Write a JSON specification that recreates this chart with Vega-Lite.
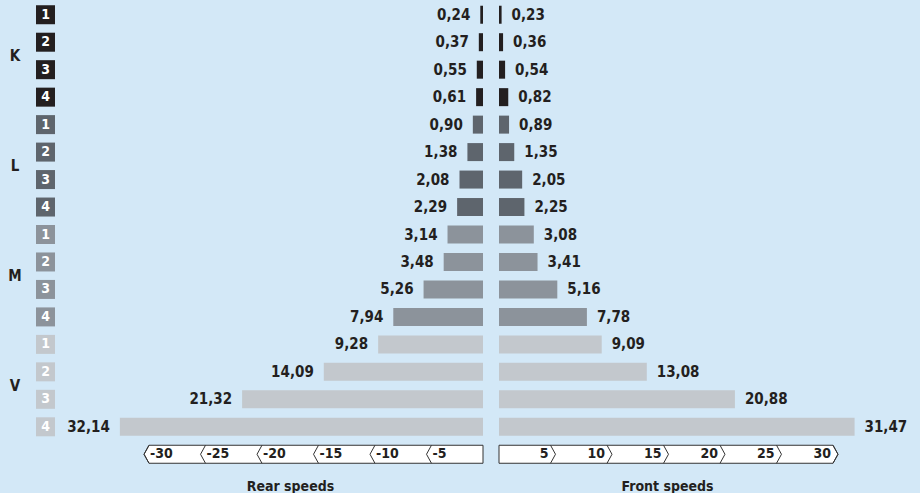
{
  "$schema": "https://vega.github.io/schema/vega-lite/v6.json",
  "background": "#d3e8f7",
  "padding": {"left": 0, "top": 1, "right": 0, "bottom": 0},
  "bounds": "flush",
  "config": {
    "view": {"stroke": null},
    "scale": {"continuousPadding": 0},
    "locale": {"number": {"decimal": ",", "thousands": ".", "grouping": [3], "currency": ["", " €"]}},
    "text": {"font": "'Liberation Sans Narrow', 'DejaVu Sans Condensed', sans-serif", "fontWeight": "bold"},
    "axis": {"titleFont": "'Liberation Sans Narrow', 'DejaVu Sans Condensed', sans-serif", "titleFontWeight": "bold", "titleFontSize": 14, "titleColor": "#231f20"}
  },
  "datasets": {
    "speeds": [
      {"group": "K", "n": 1, "row": 1, "rear": 0.24, "front": 0.23},
      {"group": "K", "n": 2, "row": 2, "rear": 0.37, "front": 0.36},
      {"group": "K", "n": 3, "row": 3, "rear": 0.55, "front": 0.54},
      {"group": "K", "n": 4, "row": 4, "rear": 0.61, "front": 0.82},
      {"group": "L", "n": 1, "row": 5, "rear": 0.90, "front": 0.89},
      {"group": "L", "n": 2, "row": 6, "rear": 1.38, "front": 1.35},
      {"group": "L", "n": 3, "row": 7, "rear": 2.08, "front": 2.05},
      {"group": "L", "n": 4, "row": 8, "rear": 2.29, "front": 2.25},
      {"group": "M", "n": 1, "row": 9, "rear": 3.14, "front": 3.08},
      {"group": "M", "n": 2, "row": 10, "rear": 3.48, "front": 3.41},
      {"group": "M", "n": 3, "row": 11, "rear": 5.26, "front": 5.16},
      {"group": "M", "n": 4, "row": 12, "rear": 7.94, "front": 7.78},
      {"group": "V", "n": 1, "row": 13, "rear": 9.28, "front": 9.09},
      {"group": "V", "n": 2, "row": 14, "rear": 14.09, "front": 13.08},
      {"group": "V", "n": 3, "row": 15, "rear": 21.32, "front": 20.88},
      {"group": "V", "n": 4, "row": 16, "rear": 32.14, "front": 31.47}
    ],
    "ticks": [{"t": 5}, {"t": 10}, {"t": 15}, {"t": 20}, {"t": 25}, {"t": 30}],
    "box": [
      {"x": 0, "top": 16.6724, "bot": 17.3276},
      {"x": 29.56, "top": 16.6724, "bot": 17.3276},
      {"x": 30, "top": 17, "bot": 17}
    ]
  },
  "spacing": 0,
  "hconcat": [
    {
      "width": 30,
      "height": 467,
      "data": {"name": "speeds"},
      "mark": {"type": "text", "fontSize": 15, "color": "#231f20"},
      "encoding": {
        "y": {"aggregate": "mean", "field": "row", "type": "quantitative", "scale": {"domain": [0.5, 17.5], "reverse": true, "nice": false, "zero": false, "padding": 0}, "axis": null},
        "text": {"field": "group", "type": "nominal"}
      }
    },
    {
      "width": 31,
      "height": 467,
      "data": {"name": "speeds"},
      "encoding": {
        "y": {"field": "row", "type": "quantitative", "scale": {"domain": [0.5, 17.5], "reverse": true, "nice": false, "zero": false, "padding": 0}, "axis": null}
      },
      "layer": [
        {
          "mark": {"type": "point", "shape": "square", "size": 361, "filled": true, "opacity": 1},
          "encoding": {
            "color": {"field": "group", "type": "nominal", "scale": {"domain": ["K", "L", "M", "V"], "range": ["#231f20", "#5e656d", "#8c939b", "#c3c8cd"]}, "legend": null}
          }
        },
        {
          "mark": {"type": "text", "fontSize": 14, "color": "white"},
          "encoding": {"text": {"field": "n", "type": "quantitative"}}
        }
      ]
    },
    {
      "spacing": 16,
      "bounds": "flush",
      "hconcat": [
        {
          "width": 422,
          "height": 467,
          "layer": [
            {
              "data": {"name": "speeds"},
              "mark": {"type": "bar", "orient": "horizontal", "size": 18},
              "encoding": {
                "x": {"field": "rear", "type": "quantitative", "scale": {"domain": [0, 37.35], "reverse": true, "nice": false, "padding": 0}, "title": "Rear speeds", "axis": {"labels": false, "ticks": false, "domain": false, "grid": false, "titlePadding": 11, "titleX": 229}},
                "y": {"field": "row", "type": "quantitative", "scale": {"domain": [0.5, 17.5], "reverse": true, "nice": false, "zero": false, "padding": 0}, "axis": null},
                "color": {"field": "group", "type": "nominal", "scale": {"domain": ["K", "L", "M", "V"], "range": ["#231f20", "#5e656d", "#8c939b", "#c3c8cd"]}, "legend": null}
              }
            },
            {
              "data": {"name": "speeds"},
              "mark": {"type": "text", "align": "right", "dx": -10, "fontSize": 15, "color": "#231f20"},
              "encoding": {
                "x": {"field": "rear", "type": "quantitative", "title": "Rear speeds"},
                "y": {"field": "row", "type": "quantitative", "axis": null},
                "text": {"field": "rear", "type": "quantitative", "format": ".2f"}
              }
            },
            {
              "data": {"name": "box"},
              "mark": {"type": "area", "fill": "white", "stroke": "#333333", "strokeWidth": 1},
              "encoding": {
                "x": {"field": "x", "type": "quantitative", "title": "Rear speeds"},
                "y": {"field": "top", "type": "quantitative", "axis": null},
                "y2": {"field": "bot"}
              }
            },
            {
              "data": {"name": "ticks"},
              "mark": {"type": "point", "shape": "M0.55,-1L0,0L0.55,1", "size": 324, "filled": false, "stroke": "#333333", "strokeWidth": 1, "opacity": 1},
              "encoding": {
                "x": {"field": "t", "type": "quantitative", "title": "Rear speeds"},
                "y": {"datum": 17, "type": "quantitative", "axis": null}
              }
            },
            {
              "data": {"name": "ticks"},
              "transform": [{"calculate": "'-' + datum.t", "as": "lab"}],
              "mark": {"type": "text", "align": "left", "dx": 6, "fontSize": 14, "color": "#231f20"},
              "encoding": {
                "x": {"field": "t", "type": "quantitative", "title": "Rear speeds"},
                "y": {"datum": 17, "type": "quantitative", "axis": null},
                "text": {"field": "lab", "type": "nominal"}
              }
            }
          ]
        },
        {
          "width": 421,
          "height": 467,
          "layer": [
            {
              "data": {"name": "speeds"},
              "mark": {"type": "bar", "orient": "horizontal", "size": 18},
              "encoding": {
                "x": {"field": "front", "type": "quantitative", "scale": {"domain": [0, 37.26], "nice": false, "padding": 0}, "title": "Front speeds", "axis": {"labels": false, "ticks": false, "domain": false, "grid": false, "titlePadding": 11, "titleX": 168}},
                "y": {"field": "row", "type": "quantitative", "scale": {"domain": [0.5, 17.5], "reverse": true, "nice": false, "zero": false, "padding": 0}, "axis": null},
                "color": {"field": "group", "type": "nominal", "scale": {"domain": ["K", "L", "M", "V"], "range": ["#231f20", "#5e656d", "#8c939b", "#c3c8cd"]}, "legend": null}
              }
            },
            {
              "data": {"name": "speeds"},
              "mark": {"type": "text", "align": "left", "dx": 10, "fontSize": 15, "color": "#231f20"},
              "encoding": {
                "x": {"field": "front", "type": "quantitative", "title": "Front speeds"},
                "y": {"field": "row", "type": "quantitative", "axis": null},
                "text": {"field": "front", "type": "quantitative", "format": ".2f"}
              }
            },
            {
              "data": {"name": "box"},
              "mark": {"type": "area", "fill": "white", "stroke": "#333333", "strokeWidth": 1},
              "encoding": {
                "x": {"field": "x", "type": "quantitative", "title": "Front speeds"},
                "y": {"field": "top", "type": "quantitative", "axis": null},
                "y2": {"field": "bot"}
              }
            },
            {
              "data": {"name": "ticks"},
              "mark": {"type": "point", "shape": "M-0.55,-1L0,0L-0.55,1", "size": 324, "filled": false, "stroke": "#333333", "strokeWidth": 1, "opacity": 1},
              "encoding": {
                "x": {"field": "t", "type": "quantitative", "title": "Front speeds"},
                "y": {"datum": 17, "type": "quantitative", "axis": null}
              }
            },
            {
              "data": {"name": "ticks"},
              "mark": {"type": "text", "align": "right", "dx": -7, "fontSize": 14, "color": "#231f20"},
              "encoding": {
                "x": {"field": "t", "type": "quantitative", "title": "Front speeds"},
                "y": {"datum": 17, "type": "quantitative", "axis": null},
                "text": {"field": "t", "type": "quantitative"}
              }
            }
          ]
        }
      ]
    }
  ]
}
